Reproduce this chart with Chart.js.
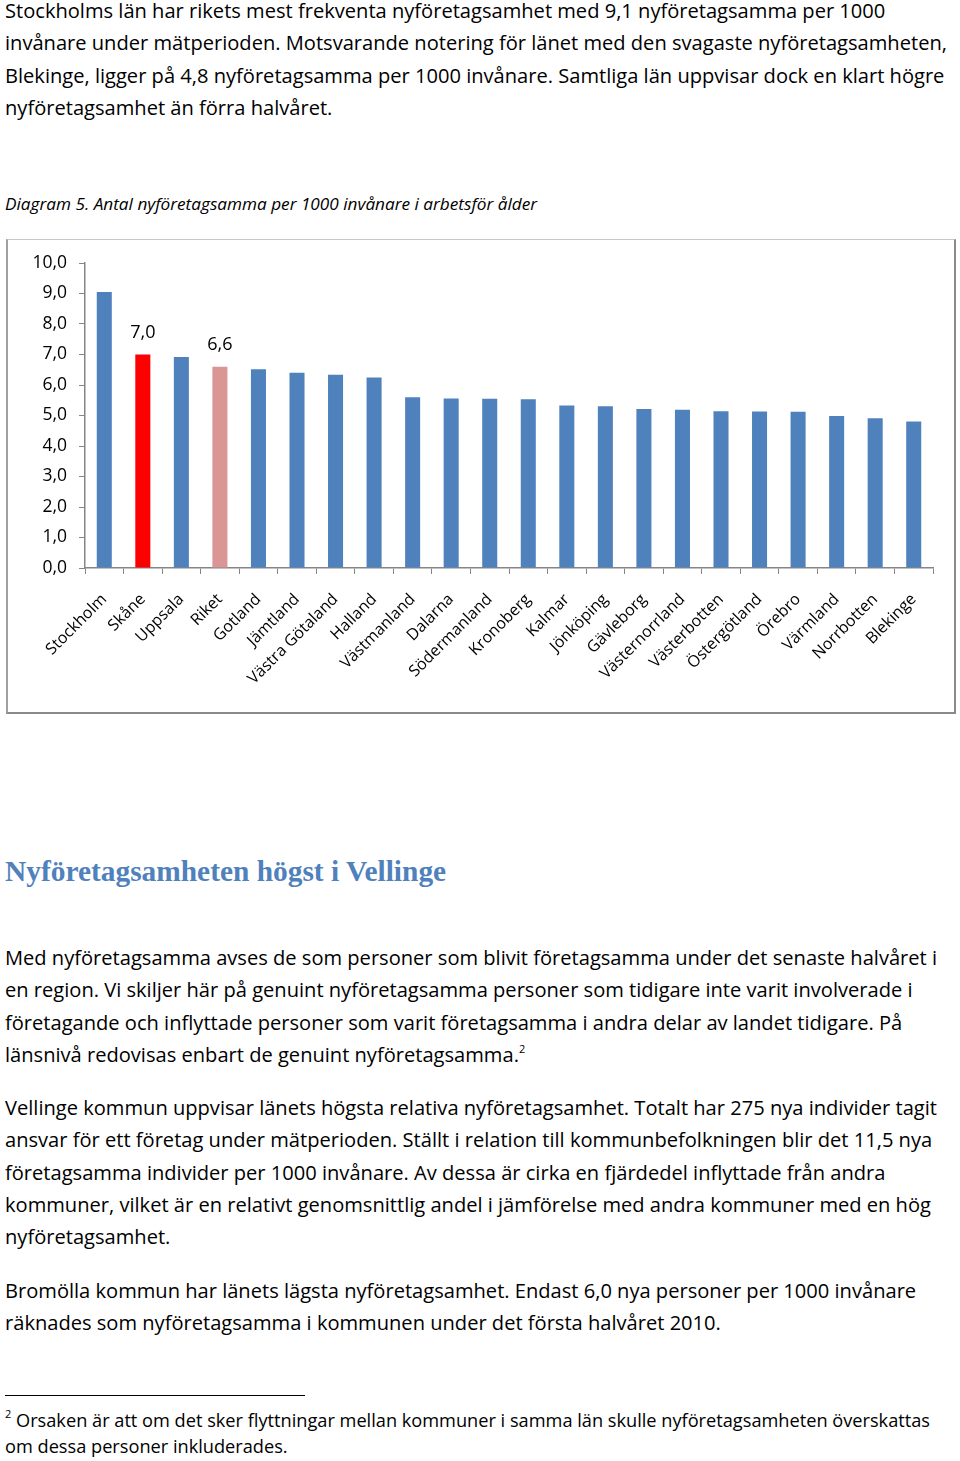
<!DOCTYPE html>
<html><head><meta charset="utf-8">
<script src="https://cdn.jsdelivr.net/npm/chart.js@4.4.0/dist/chart.umd.min.js"></script>
<style>
html,body{margin:0;padding:0;background:#fff;}
body{width:960px;height:1461px;position:relative;overflow:hidden;font-family:"Open Sans",Lato,sans-serif;color:#000;}
.p{position:absolute;left:5px;font-size:20.1px;line-height:32.3px;white-space:nowrap;}
.cap{position:absolute;left:5px;top:193px;font-size:17.2px;line-height:22px;font-style:italic;white-space:nowrap;}
h2{position:absolute;left:5px;top:852px;margin:0;font-family:"Liberation Serif",serif;font-weight:bold;font-size:29.4px;line-height:38px;color:#4F81BD;white-space:nowrap;}
#box{position:absolute;left:6px;top:239px;width:946px;height:472px;border:1px solid #c8c8c8;border-right:2px solid #8a8a8a;border-bottom:2px solid #8a8a8a;border-left:2px solid #a0a0a0;}
#box canvas{position:absolute;left:0;top:0;}
.rule{position:absolute;left:5px;top:1395px;width:300px;height:1px;background:#000;}
.fn{position:absolute;left:5px;top:1407px;font-size:18.2px;line-height:26px;white-space:nowrap;}
sup{font-size:11px;line-height:0;vertical-align:9px;}
</style></head><body>
<div class="p" style="top:-5px">Stockholms län har rikets mest frekventa nyföretagsamhet med 9,1 nyföretagsamma per 1000<br>invånare under mätperioden. Motsvarande notering för länet med den svagaste nyföretagsamheten,<br>Blekinge, ligger på 4,8 nyföretagsamma per 1000 invånare. Samtliga län uppvisar dock en klart högre<br>nyföretagsamhet än förra halvåret.</div>
<div class="cap">Diagram 5. Antal nyföretagsamma per 1000 invånare i arbetsför ålder</div>
<div id="box"><canvas id="c" width="946" height="472"></canvas></div>
<h2>Nyföretagsamheten högst i Vellinge</h2>
<div class="p" style="top:942px">Med nyföretagsamma avses de som personer som blivit företagsamma under det senaste halvåret i<br>en region. Vi skiljer här på genuint nyföretagsamma personer som tidigare inte varit involverade i<br>företagande och inflyttade personer som varit företagsamma i andra delar av landet tidigare. På<br>länsnivå redovisas enbart de genuint nyföretagsamma.<sup>2</sup></div>
<div class="p" style="top:1092px">Vellinge kommun uppvisar länets högsta relativa nyföretagsamhet. Totalt har 275 nya individer tagit<br>ansvar för ett företag under mätperioden. Ställt i relation till kommunbefolkningen blir det 11,5 nya<br>företagsamma individer per 1000 invånare. Av dessa är cirka en fjärdedel inflyttade från andra<br>kommuner, vilket är en relativt genomsnittlig andel i jämförelse med andra kommuner med en hög<br>nyföretagsamhet.</div>
<div class="p" style="top:1275px">Bromölla kommun har länets lägsta nyföretagsamhet. Endast 6,0 nya personer per 1000 invånare<br>räknades som nyföretagsamma i kommunen under det första halvåret 2010.</div>
<div class="rule"></div>
<div class="fn"><sup>2</sup> Orsaken är att om det sker flyttningar mellan kommuner i samma län skulle nyföretagsamheten överskattas<br>om dessa personer inkluderades.</div>
<script>
const categories = ["Stockholm","Skåne","Uppsala","Riket","Gotland","Jämtland","Västra Götaland","Halland","Västmanland","Dalarna","Södermanland","Kronoberg","Kalmar","Jönköping","Gävleborg","Västernorrland","Västerbotten","Östergötland","Örebro","Värmland","Norrbotten","Blekinge"];
const values = [9.05,7.0,6.92,6.6,6.52,6.4,6.34,6.25,5.6,5.56,5.55,5.53,5.33,5.3,5.21,5.19,5.14,5.13,5.12,4.98,4.91,4.8];
const labelledBars = ["Skåne","Riket"];
const yTicks = [0,1,2,3,4,5,6,7,8,9,10];
const barColors = categories.map(c => c === "Skåne" ? "#FF0000" : (c === "Riket" ? "#D99694" : "#4F81BD"));
const fmt = v => v.toFixed(1).replace('.', ',');

const valueLabels = {
  id: 'valueLabels',
  afterDatasetsDraw(chart) {
    const ctx = chart.ctx;
    const meta = chart.getDatasetMeta(0);
    ctx.save();
    ctx.font = '18px "Open Sans"';
    ctx.fillStyle = '#000';
    ctx.textAlign = 'center';
    ctx.textBaseline = 'middle';
    meta.data.forEach((bar, i) => {
      if (labelledBars.includes(categories[i])) {
        ctx.fillText(fmt(values[i]), bar.x, bar.y - 22);
      }
    });
    ctx.restore();
  }
};

new Chart(document.getElementById('c'), {
  type: 'bar',
  data: { labels: categories, datasets: [{ data: values, backgroundColor: barColors, barPercentage: 0.39, categoryPercentage: 1 }] },
  options: {
    responsive: false, animation: false,
    layout: { padding: { left: 0, top: 23, right: 21, bottom: 0 } },
    plugins: { legend: { display: false }, tooltip: { enabled: false } },
    scales: {
      x: {
        grid: { drawOnChartArea: false, offset: true, tickLength: 6, color: '#868686' },
        border: { color: '#868686', width: 1.5 },
        ticks: { color: '#000', font: { family: 'Open Sans', size: 16 }, minRotation: 45, maxRotation: 45, autoSkip: false, padding: 16 },
        afterFit(s) { s.height = 144; }
      },
      y: {
        min: 0, max: 10,
        afterBuildTicks(s) { s.ticks = yTicks.map(v => ({ value: v })); },
        grid: { drawOnChartArea: false, tickLength: 6, color: '#868686' },
        border: { color: '#868686', width: 1.5 },
        ticks: { color: '#000', font: { family: 'Open Sans', size: 17.5 }, padding: 12, callback: v => fmt(v) },
        afterFit(s) { s.width = 77; }
      }
    }
  },
  plugins: [valueLabels]
});
</script>
</body></html>
